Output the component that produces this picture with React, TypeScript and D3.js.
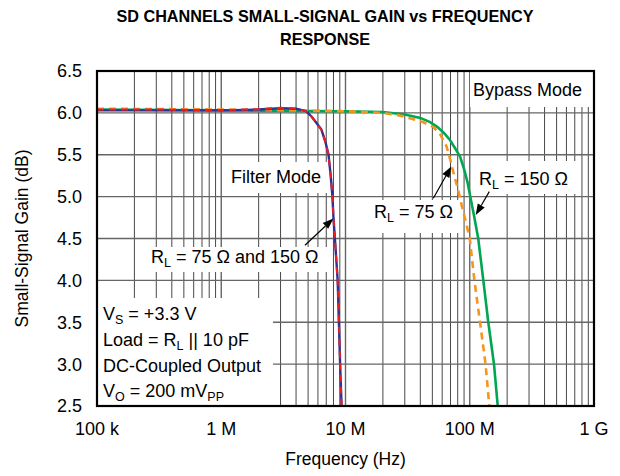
import React from "react";
import * as d3 from "d3";

const title1 = "SD CHANNELS SMALL-SIGNAL GAIN vs FREQUENCY";
const title2 = "RESPONSE";
const xTickValues = [1e5, 1e6, 1e7, 1e8, 1e9];
const xTickLabels = ["100 k", "1 M", "10 M", "100 M", "1 G"];
const yTickValues = [2.5, 3.0, 3.5, 4.0, 4.5, 5.0, 5.5, 6.0, 6.5];

// Filter mode (RL = 75 and 150 ohm overlap)
const filterFreq = [1e5, 3e5, 1e6, 2e6, 3e6, 4e6, 4.8e6, 5.3e6, 5.7e6, 6.4e6, 6.9e6, 7.3e6, 7.6e6, 7.85e6, 8.0e6, 8.3e6, 8.65e6, 8.85e6, 9.05e6, 9.3e6];
const filter150Gain = [6.03, 6.03, 6.03, 6.04, 6.055, 6.05, 6.02, 5.96, 5.9, 5.8, 5.65, 5.5, 5.25, 5.0, 4.75, 4.4, 4.0, 3.5, 3.0, 2.5];
const filter75Gain = [6.04, 6.04, 6.03, 6.045, 6.06, 6.05, 6.02, 5.96, 5.9, 5.8, 5.65, 5.5, 5.25, 5.0, 4.75, 4.4, 4.0, 3.5, 3.0, 2.5];

// Bypass mode
const bypass150Freq = [1e5, 1e6, 1e7, 2e7, 3e7, 4e7, 4.8e7, 5.5e7, 6.2e7, 6.9e7, 7.6e7, 8.35e7, 9.0e7, 9.6e7, 1.01e8, 1.08e8, 1.17e8, 1.286e8, 1.41e8, 1.567e8, 1.68e8];
const bypass150Gain = [6.04, 6.03, 6.02, 6.01, 5.98, 5.94, 5.89, 5.83, 5.76, 5.68, 5.58, 5.48, 5.33, 5.17, 5.0, 4.78, 4.5, 4.0, 3.5, 3.0, 2.5];
const bypass75Freq = [1e5, 1e6, 1e7, 2e7, 2.7e7, 3.3e7, 4.2e7, 5.1e7, 5.8e7, 6.5e7, 6.95e7, 7.5e7, 8.0e7, 8.6e7, 9.3e7, 1.0e8, 1.09e8, 1.21e8, 1.34e8, 1.437e8];
const bypass75Gain = [6.05, 6.04, 6.02, 6.0, 5.97, 5.935, 5.89, 5.83, 5.74, 5.6, 5.45, 5.25, 5.1, 4.9, 4.7, 4.5, 4.0, 3.5, 3.0, 2.5];

const W = 620, H = 476;
const L = 97, R = 594, T = 71, B = 406;
const FONT = "'Liberation Sans', Arial, Helvetica, sans-serif";

export default function App() {
  const x = d3.scaleLog().domain([1e5, 1e9]).range([L, R]);
  const y = d3.scaleLinear().domain([2.5, 6.5]).range([B, T]);
  const line = d3.line<[number, number]>().x(d => x(d[0])).y(d => y(d[1]));
  const zip = (f: number[], g: number[]) => f.map((v, i) => [v, g[i]] as [number, number]);

  const minor: number[] = [];
  for (let dec = 1e5; dec < 1e9; dec *= 10) {
    for (let k = 2; k <= 9; k++) minor.push(dec * k);
  }

  const arrow = (x1: number, y1: number, x2: number, y2: number, key: string) => {
    const ang = Math.atan2(y2 - y1, x2 - x1);
    const len = 11, w = 4;
    const bx = x2 - len * Math.cos(ang), by = y2 - len * Math.sin(ang);
    const px = -Math.sin(ang) * w, py = Math.cos(ang) * w;
    return (
      <g key={key}>
        <line x1={x1} y1={y1} x2={bx} y2={by} stroke="#000" strokeWidth={1.2} />
        <polygon points={`${x2},${y2} ${bx + px},${by + py} ${bx - px},${by - py}`} fill="#000" />
      </g>
    );
  };

  const fs = 18;
  const sub = 12.5;

  return (
    <svg width={W} height={H} style={{ position: "absolute", left: 0, top: 0, background: "#fff" }} fontFamily={FONT}>
      <rect x={0} y={0} width={W} height={H} fill="#fff" />
      <text x={325} y={22} textAnchor="middle" fontWeight="bold" fontSize={16.2}>{title1}</text>
      <text x={325} y={45} textAnchor="middle" fontWeight="bold" fontSize={16.2}>{title2}</text>

      <defs>
        <clipPath id="plotclip"><rect x={L} y={T} width={R - L} height={B - T} /></clipPath>
      </defs>

      {/* grid */}
      {minor.map((f, i) => (
        <line key={"m" + i} x1={x(f)} x2={x(f)} y1={T} y2={B} stroke="#333" strokeWidth={0.9} />
      ))}
      {xTickValues.map((f, i) => (
        <line key={"M" + i} x1={x(f)} x2={x(f)} y1={T} y2={B} stroke="#666" strokeWidth={1.4} />
      ))}
      {yTickValues.map((v, i) => (
        <line key={"h" + i} x1={L} x2={R} y1={y(v)} y2={y(v)} stroke="#666" strokeWidth={1.4} />
      ))}

      {/* annotation boxes */}
      <rect x={226} y={162} width={103} height={31} fill="#fff" />
      <rect x={470} y={T} width={R - 470} height={36} fill="#fff" />
      <rect x={147} y={247} width={183} height={25} fill="#fff" />
      <rect x={370} y={200} width={92} height={33} fill="#fff" />
      <rect x={474} y={161} width={104} height={33} fill="#fff" />
      <rect x={L} y={298} width={176} height={B - 298} fill="#fff" />

      {/* curves */}
      <g clipPath="url(#plotclip)" fill="none">
        <path d={line(zip(bypass150Freq, bypass150Gain)) || ""} stroke="#00a651" strokeWidth={2.6} />
        <path d={line(zip(bypass75Freq, bypass75Gain)) || ""} stroke="#f7941d" strokeWidth={2.6} strokeDasharray="7,5" />
        <path d={line(zip(filterFreq, filter150Gain)) || ""} stroke="#2e3192" strokeWidth={2.4} />
        <path d={line(zip(filterFreq, filter75Gain)) || ""} stroke="#ed1c24" strokeWidth={2} strokeDasharray="7,5" />
      </g>

      {/* border */}
      <rect x={L} y={T} width={R - L} height={B - T} fill="none" stroke="#000" strokeWidth={2.2} />

      {/* ticks */}
      {yTickValues.map((v, i) => (
        <text key={"yl" + i} x={82} y={y(v)} dy="0.36em" textAnchor="end" fontSize={fs}>{v.toFixed(1)}</text>
      ))}
      {xTickValues.map((f, i) => (
        <text key={"xl" + i} x={x(f)} y={435} textAnchor="middle" fontSize={fs}>{xTickLabels[i]}</text>
      ))}
      <text x={(L + R) / 2} y={465} textAnchor="middle" fontSize={17.5}>Frequency (Hz)</text>
      <text transform={`translate(28,${(T + B) / 2}) rotate(-90)`} textAnchor="middle" fontSize={17.5}>Small-Signal Gain (dB)</text>

      {/* annotations */}
      <text x={231} y={183} fontSize={fs}>Filter Mode</text>
      <text x={473} y={96} fontSize={fs}>Bypass Mode</text>
      <text x={151} y={263} fontSize={fs}>R<tspan dy={4} fontSize={sub}>L</tspan><tspan dy={-4}> = 75 Ω and 150 Ω</tspan></text>
      <text x={374} y={218} fontSize={fs}>R<tspan dy={4} fontSize={sub}>L</tspan><tspan dy={-4}> = 75 Ω</tspan></text>
      <text x={479} y={185} fontSize={fs}>R<tspan dy={4} fontSize={sub}>L</tspan><tspan dy={-4}> = 150 Ω</tspan></text>

      {arrow(x(4.72e6), y(4.42), x(8.0e6), y(4.74), "a1")}
      {arrow(x(5.09e7), y(4.98), x(7.1e7), y(5.36), "a2")}
      {arrow(x(1.436e8), y(5.06), x(1.117e8), y(4.78), "a3")}

      <text x={103} y={320} fontSize={fs}>V<tspan dy={4} fontSize={sub}>S</tspan><tspan dy={-4}> = +3.3 V</tspan></text>
      <text x={103} y={346} fontSize={fs}>Load = R<tspan dy={4} fontSize={sub}>L</tspan><tspan dy={-4}> || 10 pF</tspan></text>
      <text x={103} y={372} fontSize={fs}>DC-Coupled Output</text>
      <text x={103} y={397} fontSize={fs}>V<tspan dy={4} fontSize={sub}>O</tspan><tspan dy={-4}> = 200 mV</tspan><tspan dy={4} fontSize={sub}>PP</tspan></text>
    </svg>
  );
}
